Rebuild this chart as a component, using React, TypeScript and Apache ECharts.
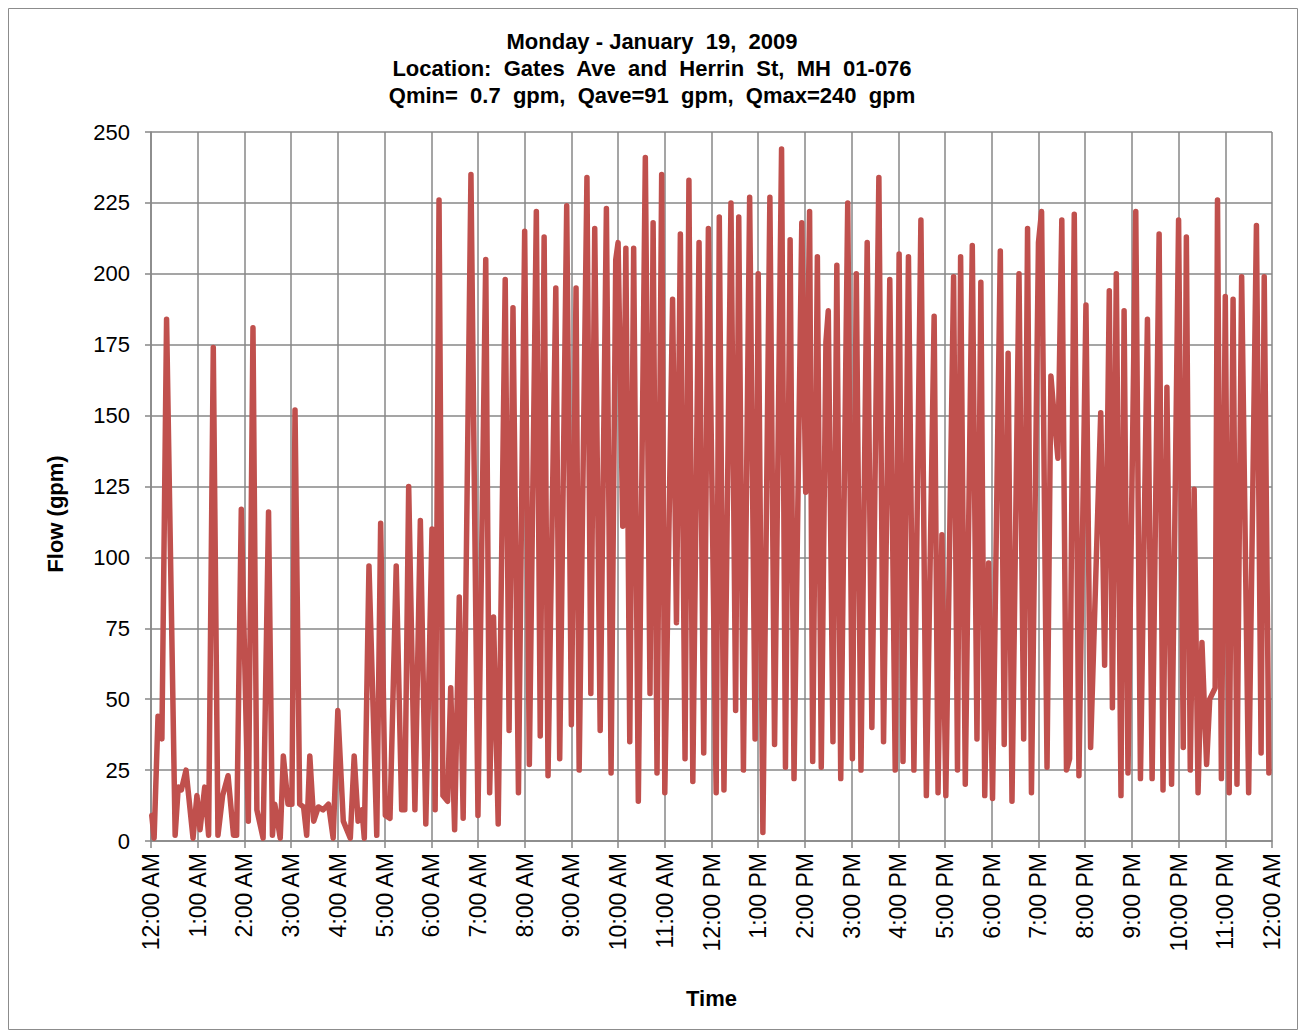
import React, { useEffect, useRef } from "react";
import * as echarts from "echarts";

// Time of each reading, minutes after midnight
const flowTimes: number[] = [
  1, 4, 9, 14, 20, 31, 35, 39, 45, 54, 59, 63, 69, 74, 80, 86, 92, 99, 106, 110,
  116, 125, 131, 136, 144, 151, 156, 159, 166, 170, 176, 181, 185, 191, 196, 200, 204, 209, 215, 221,
  228, 234, 240, 247, 256, 261, 266, 271, 274, 280, 290, 295, 301, 307, 315, 322, 326, 331, 339, 346,
  353, 361, 365, 370, 375, 381, 385, 390, 396, 401, 411, 420, 430, 435, 440, 446, 455, 460, 465, 472,
  480, 486, 495, 500, 505, 510, 520, 525, 534, 540, 546, 550, 560, 565, 570, 577, 585, 591, 597, 600,
  606, 610, 615, 620, 626, 635, 641, 645, 650, 656, 660, 670, 675, 680, 686, 691, 696, 704, 710, 716,
  726, 730, 736, 745, 751, 755, 761, 769, 776, 780, 786, 795, 801, 810, 815, 821, 826, 836, 841, 846,
  850, 856, 861, 867, 870, 876, 881, 886, 895, 901, 906, 912, 920, 926, 935, 941, 949, 956, 961, 966,
  973, 980, 989, 996, 1006, 1011, 1016, 1021, 1031, 1036, 1040, 1046, 1055, 1061, 1066, 1071, 1076, 1081, 1091, 1096,
  1101, 1106, 1115, 1121, 1126, 1131, 1140, 1144, 1151, 1156, 1161, 1165, 1170, 1176, 1180, 1186, 1192, 1201, 1207, 1220,
  1225, 1231, 1235, 1240, 1246, 1250, 1255, 1265, 1271, 1280, 1286, 1295, 1300, 1305, 1311, 1320, 1326, 1330, 1335, 1340,
  1345, 1350, 1356, 1360, 1367, 1370, 1375, 1380, 1385, 1390, 1395, 1401, 1410, 1420, 1426, 1430, 1436,
];

// Flow (gpm) at each reading
const flowValues: number[] = [
  9, 1, 44, 36, 184, 2, 19, 18, 25, 1, 16, 4, 19, 2, 174, 2, 16, 23, 2, 2,
  117, 7, 181, 11, 1, 116, 2, 13, 1, 30, 13, 13, 152, 13, 12, 2, 30, 7, 12, 11,
  13, 1, 46, 7, 1, 30, 7, 11, 1, 97, 2, 112, 9, 8, 97, 11, 11, 125, 11, 113,
  6, 110, 11, 226, 16, 14, 54, 4, 86, 8, 235, 9, 205, 17, 79, 6, 198, 39, 188, 17,
  215, 27, 222, 37, 213, 23, 195, 29, 224, 41, 195, 25, 234, 52, 216, 39, 223, 24, 205, 211,
  111, 209, 35, 209, 14, 241, 52, 218, 24, 235, 17, 191, 77, 214, 29, 233, 21, 211, 31, 216,
  17, 220, 18, 225, 46, 220, 25, 227, 36, 200, 3, 227, 34, 244, 26, 212, 22, 218, 123, 222,
  28, 206, 26, 176, 187, 35, 203, 22, 225, 29, 200, 25, 211, 40, 234, 35, 198, 25, 207, 28,
  206, 25, 219, 16, 185, 17, 108, 16, 199, 25, 206, 20, 210, 36, 197, 16, 98, 15, 208, 34,
  172, 14, 200, 36, 216, 17, 211, 222, 26, 164, 147, 135, 219, 25, 29, 221, 23, 189, 33, 151,
  62, 194, 47, 200, 16, 187, 24, 222, 22, 184, 22, 214, 18, 160, 20, 219, 33, 213, 25, 124,
  17, 70, 27, 50, 54, 226, 22, 192, 17, 191, 20, 199, 17, 217, 31, 199, 24,
];

const titleLines: string[] = [
  "Monday - January  19,  2009",
  "Location:  Gates  Ave  and  Herrin  St,  MH  01-076",
  "Qmin=  0.7  gpm,  Qave=91  gpm,  Qmax=240  gpm",
];

const yAxisTitle = "Flow (gpm)";
const xAxisTitle = "Time";

const FONT = "'Liberation Sans', Arial, sans-serif";
const GRID = "#878787";

function hourLabel(v: number): string {
  const h = Math.round(v / 60) % 24;
  const h12 = h % 12 === 0 ? 12 : h % 12;
  return `${h12}:00 ${h < 12 ? "AM" : "PM"}`;
}

export default function App() {
  const ref = useRef<HTMLDivElement>(null);

  useEffect(() => {
    if (!ref.current) return;
    const chart = echarts.init(ref.current, null, { renderer: "svg" });
    const data = flowTimes.map((t, i) => [t, flowValues[i]]);
    chart.setOption({
      animation: false,
      backgroundColor: "#ffffff",
      textStyle: { fontFamily: FONT },
      graphic: [
        {
          type: "rect",
          silent: true,
          z: 100,
          shape: { x: 8.5, y: 8.5, width: 1289, height: 1021 },
          style: { fill: "rgba(0,0,0,0)", stroke: "#8c8c8c", lineWidth: 1 },
        },
        ...titleLines.map((t, i) => ({
          type: "text",
          x: 652,
          y: 41 + i * 27,
          style: {
            text: t,
            fill: "#000",
            font: `bold 22px ${FONT}`,
            textAlign: "center",
            textVerticalAlign: "middle",
          },
        })),
        {
          type: "text",
          x: 55,
          y: 514,
          rotation: Math.PI / 2,
          style: {
            text: yAxisTitle,
            fill: "#000",
            font: `bold 22px ${FONT}`,
            textAlign: "center",
            textVerticalAlign: "middle",
          },
        },
      ],
      grid: { left: 151, right: 28, top: 132, bottom: 191 },
      xAxis: {
        type: "value",
        min: 0,
        max: 1440,
        interval: 60,
        name: xAxisTitle,
        nameLocation: "middle",
        nameGap: 146,
        nameTextStyle: { fontSize: 22, fontWeight: "bold", color: "#000", fontFamily: FONT },
        axisLine: { show: true, lineStyle: { color: GRID, width: 1.5 } },
        axisTick: { show: true, length: 7, lineStyle: { color: GRID, width: 1.5 } },
        axisLabel: {
          rotate: 90,
          margin: 12,
          fontSize: 23,
          color: "#000",
          fontFamily: FONT,
          formatter: hourLabel,
        },
        splitLine: { show: true, lineStyle: { color: GRID, width: 1.5 } },
      },
      yAxis: {
        type: "value",
        min: 0,
        max: 250,
        interval: 25,
        axisLine: { show: true, lineStyle: { color: GRID, width: 1.5 } },
        axisTick: { show: true, length: 6, lineStyle: { color: GRID, width: 1.5 } },
        axisLabel: { margin: 21, fontSize: 22, color: "#000", fontFamily: FONT },
        splitLine: { show: true, lineStyle: { color: GRID, width: 1.5 } },
      },
      series: [
        {
          type: "line",
          data,
          symbol: "none",
          showSymbol: false,
          lineStyle: { color: "#C0504D", width: 5.5, join: "round", cap: "round" },
        },
      ],
    });
    return () => chart.dispose();
  }, []);

  return (
    <div
      ref={ref}
      style={{ position: "absolute", left: 0, top: 0, width: 1300, height: 1032 }}
    />
  );
}
